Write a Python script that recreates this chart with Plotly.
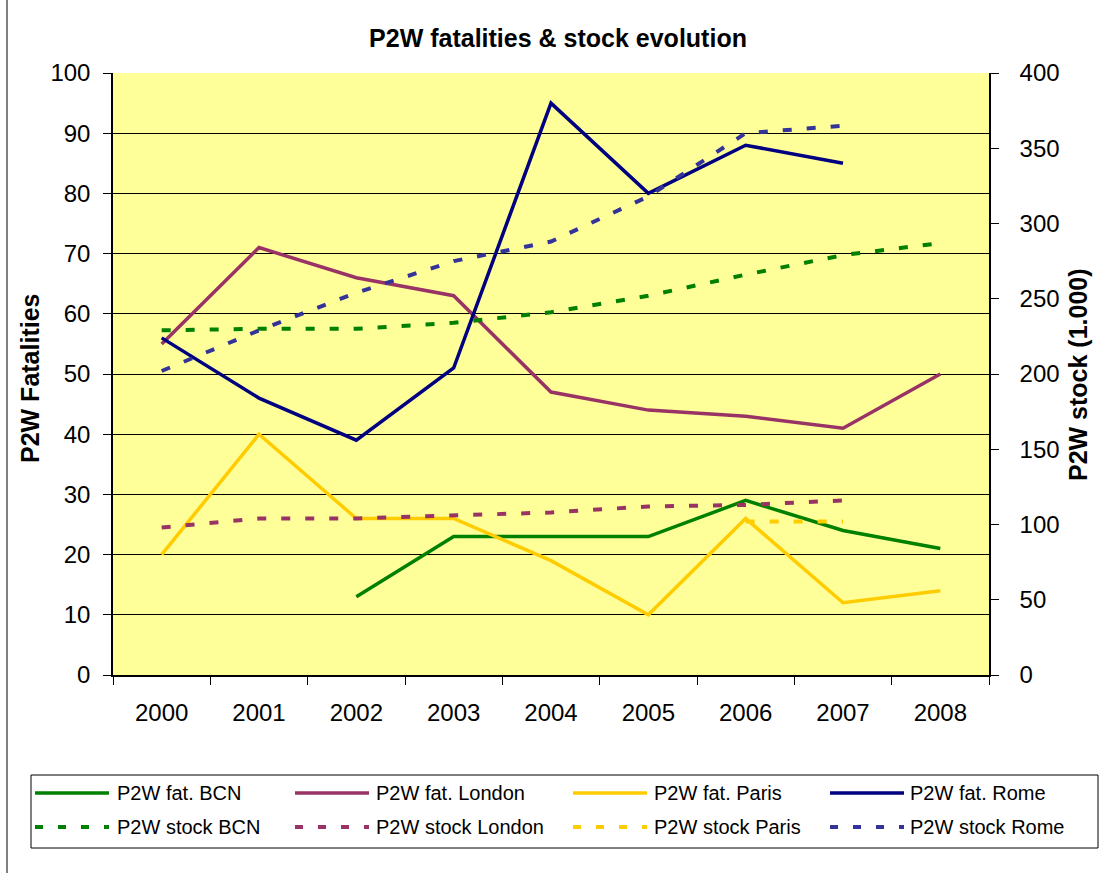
import plotly.graph_objects as go

# ---- data -------------------------------------------------------------
years = ["2000", "2001", "2002", "2003", "2004", "2005", "2006", "2007", "2008"]

# fatalities (left axis)
fat_bcn = [None, None, 13, 23, 23, 23, 29, 24, 21]
fat_london = [55, 71, 66, 63, 47, 44, 43, 41, 50]
fat_paris = [20, 40, 26, 26, 19, 10, 26, 12, 14]
fat_rome = [56, 46, 39, 51, 95, 80, 88, 85, None]

# stock in thousands (right axis)
stock_bcn = [229, 230, 230, 234, 241, 252, 266, 279, 287]
stock_london = [98, 104, 104, 106, 108, 112, 113, 116, None]
stock_paris = [None, None, None, None, None, None, 102, 102, None]
stock_rome = [202, 229, 254, 275, 288, 318, 360, 365, None]

# ---- styling ------------------------------------------------------------
FONT = "Arial, Liberation Sans, sans-serif"
W, H = 1101, 873
PL, PR, PT, PB = 113, 989, 73, 675  # plot-area edges in pixels

GREEN = "#008000"
PLUM = "#993366"
GOLD = "#FFCC00"
NAVY = "#000080"
SLATE = "#333399"

SOLID_W = 3.5
DASH_W = 4
DASH = "9px,15px"

fatal_series = [
    ("P2W fat. BCN", fat_bcn, GREEN),
    ("P2W fat. London", fat_london, PLUM),
    ("P2W fat. Paris", fat_paris, GOLD),
    ("P2W fat. Rome", fat_rome, NAVY),
]
stock_series = [
    ("P2W stock BCN", stock_bcn, GREEN),
    ("P2W stock London", stock_london, PLUM),
    ("P2W stock Paris", stock_paris, GOLD),
    ("P2W stock Rome", stock_rome, SLATE),
]

fig = go.Figure()

for name, vals, col in fatal_series:
    fig.add_trace(go.Scatter(
        x=years, y=vals, name=name, mode="lines",
        line=dict(color=col, width=SOLID_W),
        connectgaps=False, showlegend=False, yaxis="y",
    ))

for name, vals, col in stock_series:
    fig.add_trace(go.Scatter(
        x=years, y=vals, name=name, mode="lines",
        line=dict(color=col, width=DASH_W, dash=DASH),
        connectgaps=False, showlegend=False, yaxis="y2",
    ))


def px_x(x):
    return (x - PL) / (PR - PL)


def px_y(y):
    return (PB - y) / (PB - PT)


shapes = []
annotations = []

# outer frame line on the left edge of the chart
shapes.append(dict(type="line", xref="paper", yref="paper",
                   x0=px_x(7), x1=px_x(7), y0=px_y(0), y1=px_y(H),
                   line=dict(color="black", width=1)))

# legend box with two rows of four entries
shapes.append(dict(type="rect", xref="paper", yref="paper",
                   x0=px_x(31), x1=px_x(1098), y0=px_y(775), y1=px_y(848),
                   line=dict(color="black", width=1), fillcolor="white",
                   layer="below"))

sym_x = [35, 295, 573, 830]
txt_x = [115, 374, 652, 908]
row_y = [793, 827]
SYM_LEN = 74

for row, series, dash in ((0, fatal_series, None), (1, stock_series, "8px,15px")):
    for i, (name, _, col) in enumerate(series):
        line = dict(color=col, width=4 if dash else SOLID_W)
        if dash:
            line["dash"] = dash
        shapes.append(dict(type="line", xref="paper", yref="paper",
                           x0=px_x(sym_x[i]), x1=px_x(sym_x[i] + SYM_LEN),
                           y0=px_y(row_y[row]), y1=px_y(row_y[row]),
                           line=line))
        annotations.append(dict(xref="paper", yref="paper",
                                x=px_x(txt_x[i]), y=px_y(row_y[row]),
                                text=name, showarrow=False,
                                xanchor="left", yanchor="middle",
                                font=dict(family=FONT, size=20, color="black")))

# axis titles
annotations.append(dict(xref="paper", yref="paper", x=px_x(30), y=px_y(378),
                        text="P2W Fatalities", textangle=-90, showarrow=False,
                        xanchor="center", yanchor="middle",
                        font=dict(family=FONT, size=25, color="black", weight="bold")))
annotations.append(dict(xref="paper", yref="paper", x=px_x(1078), y=px_y(375),
                        text="P2W stock (1.000)", textangle=-90, showarrow=False,
                        xanchor="center", yanchor="middle",
                        font=dict(family=FONT, size=25, color="black", weight="bold")))

fig.update_layout(
    width=W, height=H,
    margin=dict(l=PL, r=W - PR, t=PT, b=H - PB, pad=0),
    paper_bgcolor="white",
    plot_bgcolor="#FFFF99",
    title=dict(text="P2W fatalities & stock evolution",
               x=558 / W, xanchor="center", xref="container",
               y=1 - 38 / H, yanchor="middle", yref="container",
               font=dict(family=FONT, size=25, color="black", weight="bold")),
    font=dict(family=FONT, size=24, color="black"),
    showlegend=False,
    shapes=shapes,
    annotations=annotations,
    xaxis=dict(
        type="category", categoryorder="array", categoryarray=years,
        range=[-0.5, 8.5], tickson="boundaries",
        ticks="outside", ticklen=8, tickcolor="black", tickwidth=1,
        showline=True, linecolor="black", linewidth=1.5,
        showgrid=False, zeroline=False,
        tickfont=dict(family=FONT, size=24, color="black"),
        ticklabelstandoff=15,
    ),
    yaxis=dict(
        range=[0, 100], dtick=10, tick0=0,
        ticks="outside", ticklen=8, tickcolor="black",
        showline=True, linecolor="black", linewidth=1.5,
        showgrid=True, gridcolor="black", gridwidth=1,
        zeroline=False,
        tickfont=dict(family=FONT, size=24, color="black"),
        ticklabelstandoff=8,
    ),
    yaxis2=dict(
        range=[0, 400], dtick=50, tick0=0,
        overlaying="y", side="right",
        ticks="outside", ticklen=8, tickcolor="black",
        showline=True, linecolor="black", linewidth=1.5,
        showgrid=False, zeroline=False,
        tickfont=dict(family=FONT, size=24, color="black"),
        ticklabelstandoff=16,
    ),
)

fig.write_html("out.html")
